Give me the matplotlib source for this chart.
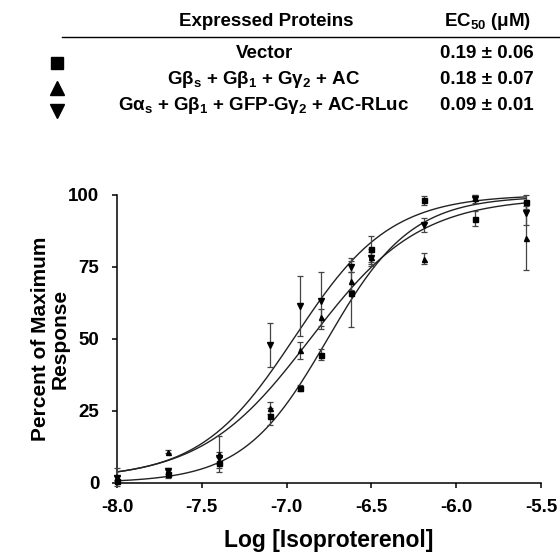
import numpy as np
import matplotlib
matplotlib.use("Agg")
import matplotlib.pyplot as plt

plt.rcParams['font.family'] = ['Liberation Sans', 'DejaVu Sans']
plt.rcParams['font.weight'] = 'bold'
plt.rcParams['axes.labelweight'] = 'bold'
plt.rcParams['mathtext.fontset'] = 'custom'
plt.rcParams['mathtext.rm'] = 'Liberation Sans:bold'
plt.rcParams['mathtext.it'] = 'Liberation Sans:bold'
plt.rcParams['mathtext.bf'] = 'Liberation Sans:bold'
plt.rcParams['mathtext.sf'] = 'Liberation Sans:bold'

# log of isoproterenol concentration (10 nM ... 2.56 uM)
log_iso = [-8.0, -7.7, -7.4, -7.1, -6.92, -6.8, -6.62, -6.5, -6.19, -5.89, -5.59]

# percent of maximum response, mean and error
vector_mean = [0.5, 3, 7, 23, 33, 44.5, 66, 81, 98, 91.7, 97.5]
vector_err = [0.5, 1.5, 2, 3, 1, 2, 12, 4.5, 1.7, 2.7, 2.4]
gbs_mean = [2, 10.7, 10, 26, 46, 57.4, 70, 78.3, 77.8, 99, 85]
gbs_err = [3, 0.5, 6.3, 2, 3, 3, 3, 3, 2, 1, 11]
gas_mean = [1.5, 4, 8.5, 47.8, 61.4, 63.2, 75, 78, 89.5, 98.5, 93.5]
gas_err = [1, 1, 2, 7.7, 10.4, 10, 2, 2, 2.5, 1.5, 4]

# sigmoidal fit parameters: bottom, top, logEC50, hill slope
vector_fit = [0, 99.5, -6.76, 1.75]
gbs_fit = [1, 99, -6.86, 1.35]
gas_fit = [1.5, 100, -6.95, 1.55]

# table text
header_labels = ["Expressed Proteins", "EC$_{50}$ (\u03bcM)"]
protein_labels = ["Vector",
                  r"G$\beta_\mathrm{s}$ + G$\beta_1$ + G$\gamma_2$ + AC",
                  r"G$\alpha_\mathrm{s}$ + G$\beta_1$ + GFP-G$\gamma_2$ + AC-RLuc"]
ec50_labels = ["0.19 \u00b1 0.06", "0.18 \u00b1 0.07", "0.09 \u00b1 0.01"]

x_ticks = [-8.0, -7.5, -7.0, -6.5, -6.0, -5.5]
y_ticks = [0, 25, 50, 75, 100]


def dose_response(x, fit):
    bottom, top, ec50, hill = fit
    return bottom + (top - bottom) / (1 + 10 ** ((ec50 - x) * hill))


fig = plt.figure(figsize=(5.6, 5.52), dpi=100)
ax = fig.add_axes([0.209, 0.1255, 0.757, 0.5218])

series = [
    (vector_mean, vector_err, vector_fit, 's', 3.6),
    (gbs_mean, gbs_err, gbs_fit, '^', 3.6),
    (gas_mean, gas_err, gas_fit, 'v', 3.8),
]
xs = np.linspace(log_iso[0], log_iso[-1], 300)
for mean, err, fit, mk, ms in series:
    ax.plot(xs, dose_response(xs, fit), color='#222222', lw=1.0, zorder=2)
    ax.errorbar(log_iso, mean, yerr=err, fmt=mk, ms=ms, color='black',
                ecolor='#444444', elinewidth=0.9, capsize=2.2, capthick=0.9,
                clip_on=False, zorder=3)

ax.set_xlim(-8.0, -5.5)
ax.set_ylim(0, 100)
ax.set_xticks(x_ticks)
ax.set_xticklabels([f"{t:.1f}" for t in x_ticks])
ax.set_yticks(y_ticks)
for side in ['top', 'right']:
    ax.spines[side].set_visible(False)
for side in ['left', 'bottom']:
    ax.spines[side].set_linewidth(1.1)
ax.tick_params(direction='out', length=3.8, width=1.1, labelsize=13.5)
ax.tick_params(axis='y', pad=9)
ax.tick_params(axis='x', pad=8)
ax.set_xlabel("Log [Isoproterenol]", fontsize=16.5, fontweight='bold', labelpad=9)
ax.set_ylabel("Percent of Maximum\nResponse", fontsize=15, fontweight='bold',
              linespacing=1.05)
ax.yaxis.set_label_coords(-0.158, 0.5)
ax.yaxis.label.set_va('center')

# table above the plot, in pixel coordinates
tab = fig.add_axes([0, 0, 1, 1])
tab.set_xlim(0, 560)
tab.set_ylim(552, 0)
tab.axis('off')
tab.patch.set_visible(False)
tab.plot([62, 560], [37, 37], color='black', lw=1.0)
tab.text(266, 21, header_labels[0], ha='center', va='center', fontsize=13.5)
tab.text(488, 21, header_labels[1], ha='center', va='center', fontsize=13.5)
row_y = [53, 79, 105]
marker_y = [63, 88, 111]
for lab, ec, ry, my, (_, _, _, mk, _) in zip(protein_labels, ec50_labels,
                                           row_y, marker_y, series):
    tab.text(264, ry, lab, ha='center', va='center', fontsize=13.5)
    tab.text(487, ry, ec, ha='center', va='center', fontsize=13.5)
    tab.plot([57], [my], marker=mk, color='black', ms=8 if mk == 's' else 9.5,
             ls='none')

fig.savefig("out.png", dpi=100)
